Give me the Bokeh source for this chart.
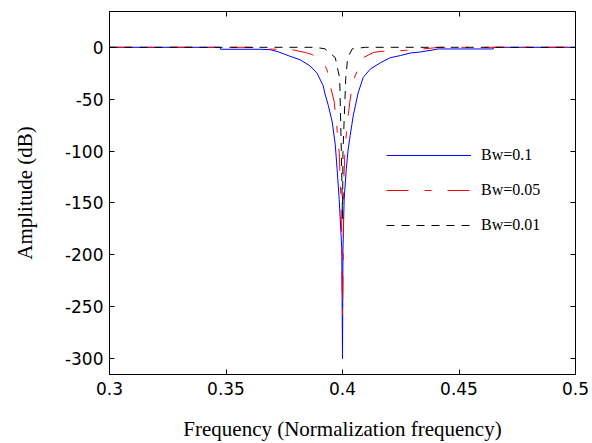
from bokeh.plotting import figure
from bokeh.models import (LinearAxis, FixedTicker, Range1d, Legend, LegendItem,
                          CustomLabelingPolicy)
from bokeh.embed import file_html
from bokeh.resources import INLINE

# ---- data ----
freq_bw01 = [0.300, 0.3475, 0.3476, 0.3647, 0.3690, 0.3724, 0.3767, 0.3818, 0.3861,
             0.3891, 0.3917, 0.3925, 0.3939, 0.3956, 0.3969, 0.3977, 0.3986, 0.3997,
             0.4000, 0.4002, 0.4007, 0.4016, 0.4024, 0.4033, 0.4046, 0.4067, 0.4089,
             0.4119, 0.4162, 0.4205, 0.4248, 0.4291, 0.4334, 0.4389, 0.4411, 0.4647,
             0.4648, 0.500]
amp_bw01 = [0, 0, -1.9, -1.9, -2.3, -4.3, -8, -12, -18,
            -25, -37, -45, -56, -72, -94, -118, -147, -195,
            -300, -195, -147, -118, -99, -85, -66, -44, -29,
            -21, -15, -10, -8, -5.5, -4.5, -2.5, -1.6, -1.6,
            0, 0]

freq_bw005 = [0.300, 0.3604, 0.3668, 0.3788, 0.3840, 0.3870, 0.3921, 0.3934, 0.3951,
              0.3964, 0.3975, 0.3986, 0.3994, 0.3997, 0.4000, 0.4003, 0.4005, 0.4010,
              0.4018, 0.4033, 0.4042, 0.4050, 0.4072, 0.4089, 0.4132, 0.4162, 0.4269,
              0.4346, 0.4419, 0.500]
amp_bw005 = [0, 0, -1.5, -2.5, -5, -7, -16, -22, -40,
             -52, -75, -102, -150, -200, -258, -200, -130, -104,
             -78, -50, -38, -30, -18, -10, -5, -4, -3,
             -1.5, 0, 0]

freq_bw001 = [0.300, 0.3883, 0.3925, 0.3969, 0.3988, 0.3995, 0.4000, 0.4002, 0.4014,
              0.4022, 0.4042, 0.4098, 0.500]
amp_bw001 = [0, 0, -1.5, -10, -30, -100, -165, -100, -30,
             -10, -1.5, 0, 0]

x_ticks = [0.3, 0.35, 0.4, 0.45, 0.5]
x_tick_labels = ["0.3", "0.35", "0.4", "0.45", "0.5"]
y_ticks = [0, -50, -100, -150, -200, -250, -300]
y_tick_labels = ["0", "-50", "-100", "-150", "-200", "-250", "-300"]
legend_labels = ["Bw=0.1", "Bw=0.05", "Bw=0.01"]

SANS = "DejaVu Sans"
SERIF = "Liberation Serif"

p = figure(width=592, height=443, output_backend="svg", toolbar_location=None,
           x_range=Range1d(0.3, 0.5), y_range=Range1d(-315.3, 34.5),
           min_border_left=109, min_border_right=17, min_border_top=11,
           min_border_bottom=67, x_axis_type=None, y_axis_type=None)
p.grid.visible = False
p.outline_line_color = "black"
p.outline_line_width = 1
p.background_fill_color = "white"
p.border_fill_color = "white"

hide_all = CustomLabelingPolicy(
    code="for (let i = 0; i < indices.size; i++) { indices.unset(i) }\nreturn indices")


def style_axis(ax, labels_on):
    ax.major_tick_in = 5
    ax.major_tick_out = 0
    ax.minor_tick_in = 0
    ax.minor_tick_out = 0
    ax.axis_line_color = "black"
    ax.major_tick_line_color = "black"
    ax.major_label_text_color = "black"
    ax.axis_label_text_color = "black"
    if not labels_on:
        ax.major_label_policy = hide_all
        ax.major_label_text_font_size = "0px"
        ax.major_label_standoff = 0


xb = LinearAxis(ticker=FixedTicker(ticks=x_ticks),
                major_label_overrides=dict(zip(x_ticks, x_tick_labels)),
                axis_label="Frequency (Normalization frequency)")
style_axis(xb, True)
xb.major_label_text_font = SANS
xb.major_label_text_font_size = "17px"
xb.major_label_standoff = 7
xb.axis_label_text_font = SERIF
xb.axis_label_text_font_size = "21px"
xb.axis_label_text_font_style = "normal"
xb.axis_label_standoff = 19
p.add_layout(xb, "below")

yl = LinearAxis(ticker=FixedTicker(ticks=y_ticks),
                major_label_overrides=dict(zip(y_ticks, y_tick_labels)),
                axis_label="Amplitude (dB)")
style_axis(yl, True)
yl.major_label_text_font = SANS
yl.major_label_text_font_size = "17px"
yl.major_label_standoff = 6
yl.axis_label_text_font = SERIF
yl.axis_label_text_font_size = "21px"
yl.axis_label_text_font_style = "normal"
yl.axis_label_standoff = 25
p.add_layout(yl, "left")

xt = LinearAxis(ticker=FixedTicker(ticks=x_ticks))
style_axis(xt, False)
p.add_layout(xt, "above")
yr = LinearAxis(ticker=FixedTicker(ticks=y_ticks))
style_axis(yr, False)
p.add_layout(yr, "right")

r1 = p.line(freq_bw01, amp_bw01, line_color="#0000ff", line_width=1)
r2 = p.line(freq_bw005, amp_bw005, line_color="#ff0000", line_width=1,
            line_dash="22 16 7 16")
r3 = p.line(freq_bw001, amp_bw001, line_color="#000000", line_width=1,
            line_dash="8 7")

legend = Legend(items=[LegendItem(label=legend_labels[0], renderers=[r1]),
                       LegendItem(label=legend_labels[1], renderers=[r2]),
                       LegendItem(label=legend_labels[2], renderers=[r3])],
                location=(277, 139), glyph_width=85, glyph_height=20,
                label_height=20, spacing=15, padding=0, margin=0,
                label_standoff=10, border_line_color=None,
                background_fill_alpha=0, label_text_color="black",
                label_text_font=SERIF, label_text_font_size="16px")
p.add_layout(legend, "center")

open("out.html", "w").write(file_html(p, INLINE))
